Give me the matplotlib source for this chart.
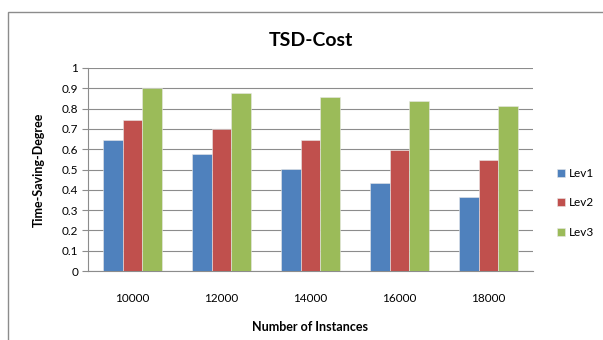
import matplotlib
matplotlib.use("Agg")
import matplotlib.pyplot as plt
import numpy as np
from matplotlib.patches import Rectangle

categories = ["10000", "12000", "14000", "16000", "18000"]
lev1 = [0.645, 0.575, 0.502, 0.435, 0.365]
lev2 = [0.745, 0.698, 0.645, 0.598, 0.545]
lev3 = [0.900, 0.877, 0.857, 0.837, 0.812]
series_names = ["Lev1", "Lev2", "Lev3"]
colors = ["#4F81BD", "#C0504D", "#9BBB59"]

plt.rcParams["font.family"] = ["Lato", "DejaVu Sans"]

fig = plt.figure(figsize=(6.03, 3.40), dpi=100)
ax = fig.add_axes([88 / 603, 1 - 271 / 340, (533 - 88) / 603, (271 - 68) / 340])

# chart area border
fig.patches.append(Rectangle((8 / 603, -0.1), 1.2, 1 - 12 / 340 + 0.1,
                             transform=fig.transFigure, fill=False,
                             edgecolor="#8c8c8c", lw=1.0))

x = np.arange(len(categories))
w = 1 / 4.5
for i, (vals, name, c) in enumerate(zip([lev1, lev2, lev3], series_names, colors)):
    ax.bar(x + (i - 1) * w, vals, w, color=c, label=name,
           edgecolor="#e8e8e8", linewidth=0.4, zorder=3)

ax.set_xlim(-0.5, len(categories) - 0.5)
ax.set_ylim(0, 1)
ax.set_yticks(np.arange(0, 1.01, 0.1))
ax.set_yticklabels(["0"] + [f"{v:.1f}" for v in np.arange(0.1, 0.95, 0.1)] + ["1"])
ax.set_xticks(x)
ax.set_xticklabels(categories)
ax.grid(axis="y", color="#8c8c8c", lw=0.8, zorder=0)
for s in ["top", "right"]:
    ax.spines[s].set_visible(False)
ax.spines["left"].set_color("#8c8c8c")
ax.spines["bottom"].set_color("#8c8c8c")
ax.tick_params(axis="y", length=4, color="#8c8c8c", labelsize=8.5, pad=3)
ax.tick_params(axis="x", length=0, labelsize=8.5, pad=16)

ax.set_title("TSD-Cost", fontsize=14, fontweight="bold", pad=16)
ax.set_xlabel("Number of Instances", fontsize=9, fontweight="bold", labelpad=12)
ax.set_ylabel("Time-Saving-Degree", fontsize=9, fontweight="bold", labelpad=12)

ax.legend(loc="center left", bbox_to_anchor=(1.03, 0.335), frameon=False,
          fontsize=8.5, handlelength=0.7, handleheight=0.7, labelspacing=1.55,
          handletextpad=0.3)

fig.savefig("out.png", dpi=100)
